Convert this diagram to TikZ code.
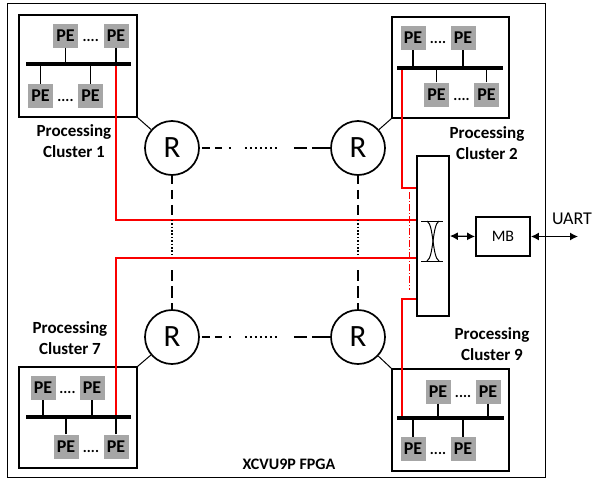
\documentclass[tikz,border=0pt]{standalone}
\usepackage{fontspec}
\setmainfont{Carlito}
\usetikzlibrary{arrows.meta,calc}
\definecolor{pegray}{RGB}{166,166,166}
\definecolor{linkred}{RGB}{250,0,0}
\begin{document}
\begin{tikzpicture}[x=1pt,y=-1pt,
  pe/.style={fill=pegray, minimum width=25pt, minimum height=24pt, inner sep=0pt,
             font=\fontsize{18}{18}\selectfont\bfseries},
  dots/.style={anchor=base, inner sep=0pt, font=\fontsize{15}{15}\selectfont\bfseries},
  bus/.style={line width=3.4pt},
  stem/.style={line width=1.1pt},
  cluster/.style={draw, line width=1.3pt, inner sep=0pt},
  clabel/.style={align=center, font=\fontsize{17}{21}\selectfont\bfseries},
  router/.style={circle, draw, line width=1.7pt, minimum size=54pt, inner sep=0pt,
                 font=\fontsize{31}{31}\selectfont},
  attach/.style={line width=1pt},
  redlink/.style={draw=linkred, line width=1.6pt},
  hlink/.style={line width=2pt, shorten <=2pt,
    dash pattern=on 8pt off 5pt on 7pt off 7pt on 2pt off 14pt
      on 2pt off 3pt on 2pt off 3pt on 2pt off 3pt on 2pt off 3pt
      on 2pt off 3pt on 2pt off 3pt on 2pt off 17pt
      on 13pt off 5pt on 20pt},
  vlink/.style={line width=2pt,
    dash pattern=on 8pt off 6pt on 9pt off 6pt on 10pt off 5pt
      on 1.6pt off 1.8pt on 1.6pt off 1.8pt on 1.6pt off 1.8pt on 1.6pt off 1.8pt
      on 1.6pt off 1.8pt on 1.6pt off 1.8pt on 1.6pt off 1.8pt on 1.6pt off 1.8pt
      on 1.6pt off 1.8pt on 1.6pt off 1.8pt on 1.6pt off 15pt
      on 11pt off 5pt on 12pt off 5pt on 10pt},
  box/.style={draw, line width=1.8pt, inner sep=0pt},
  biarrow/.style={line width=1.3pt, {Latex[length=8pt,width=8pt]}-{Latex[length=8pt,width=8pt]}},
]
\useasboundingbox (0,0) rectangle (596,479);

% FPGA outline and its name
\node[draw, line width=0.9pt, minimum width=538pt, minimum height=474pt, inner sep=0pt]
  (fpga) at (276,240) {};
\node[font=\fontsize{16}{16}\selectfont\bfseries] (fpganame) at (289,464) {XCVU9P FPGA};

% crossbar, MicroBlaze, UART
\node[box, minimum width=32pt, minimum height=160pt] (xb) at (433,236) {};
\node[box, minimum width=54pt, minimum height=39pt, font=\fontsize{16}{16}\selectfont] (mb) at (503,236.5) {MB};
\coordinate (uart) at (578,236.5);
\node[font=\fontsize{18}{18}\selectfont] (uartlbl) at (572,219) {UART};
\draw[line width=1pt] (421,221) -- (443,221) (421,261) -- (443,261);
\draw[line width=1pt] (427,221) .. controls (434,225) and (432,257) .. (439,261);
\draw[line width=1pt] (439,221) .. controls (432,225) and (434,257) .. (427,261);
\draw[biarrow] (xb.east) -- (mb.west);
\draw[biarrow] (mb.east) -- (uart);

% routers
\node[router] (r1) at (172,148) {R};
\node[router] (r2) at (358,148) {R};
\node[router] (r3) at (172,337) {R};
\node[router] (r4) at (358,337) {R};

% cluster boxes
\node[cluster, minimum width=118pt, minimum height=102pt] (c1) at (78,66) {};
\node[cluster, minimum width=117pt, minimum height=101pt] (c2) at (450.5,67.5) {};
\node[cluster, minimum width=118pt, minimum height=101pt] (c7) at (78,417.5) {};
\node[cluster, minimum width=117pt, minimum height=102pt] (c9) at (450.5,420) {};

\node[clabel] (l1) at (74,141.5) {Processing\\Cluster 1};
\node[clabel] (l2) at (487,143) {Processing\\Cluster 2};
\node[clabel] (l7) at (70,338.5) {Processing\\Cluster 7};
\node[clabel] (l9) at (492,344.5) {Processing\\Cluster 9};

% processing elements
\node[pe] (p1a) at (65.5,35.5) {PE};
\node[pe] (p1b) at (116,35.5) {PE};
\node[pe] (p1c) at (40.5,96) {PE};
\node[pe] (p1d) at (90.5,96) {PE};
\coordinate (b1w) at (26,64); \coordinate (b1e) at (131,64);

\node[pe] (p2a) at (413,38) {PE};
\node[pe] (p2b) at (463,38) {PE};
\node[pe] (p2c) at (436.5,94.5) {PE};
\node[pe] (p2d) at (486.5,94.5) {PE};
\coordinate (b2w) at (397,68); \coordinate (b2e) at (503,68);

\node[pe] (p7a) at (43,388) {PE};
\node[pe] (p7b) at (92,388) {PE};
\node[pe] (p7c) at (66,446.5) {PE};
\node[pe] (p7d) at (116,446.5) {PE};
\coordinate (b7w) at (26,417); \coordinate (b7e) at (131,417);

\node[pe] (p9a) at (438,391.5) {PE};
\node[pe] (p9b) at (488,391.5) {PE};
\node[pe] (p9c) at (413,449) {PE};
\node[pe] (p9d) at (463,449) {PE};
\coordinate (b9w) at (397,418); \coordinate (b9e) at (504,418);

\foreach \c in {1,2,7,9} {
  \node[dots] at ($(p\c a.base)!0.5!(p\c b.base)$) {....};
  \node[dots] at ($(p\c c.base)!0.5!(p\c d.base)$) {....};
}

% red configuration lines to the crossbar
\draw[redlink] (p1b |- b1w) |- ($(xb.west)+(0,-16)$);
\draw[redlink] (p7d |- b7w) |- ($(xb.west)+(0,22)$);
\draw[redlink] ($(b2w)+(5,0)$) |- ($(xb.west)+(0,-48)$);
\draw[redlink] ($(b9w)+(5,0)$) |- ($(xb.west)+(0,63)$);
\coordinate (dd1) at (409,192); \coordinate (dd2) at (409,290);
\draw[draw=linkred, line width=0.8pt, dash pattern=on 7pt off 2pt on 1pt off 2pt] (dd1) -- (dd2);

% buses and stems
\foreach \c in {1,2,7,9} {
  \draw[bus] (b\c w) -- (b\c e);
}
\draw[stem] (p1a.south) -- (p1a |- b1w);
\draw[stem] (p1b.south) -- (p1b |- b1w);
\draw[stem] (p1c.north) -- (p1c |- b1w);
\draw[stem] (p1d.north) -- (p1d |- b1w);
\draw[stem] (p2a.south) -- (p2a |- b2w);
\draw[stem] (p2b.south) -- (p2b |- b2w);
\draw[stem] (p2c.north) -- (p2c |- b2w);
\draw[stem] (p2d.north) -- (p2d |- b2w);
\draw[stem] (p7a.south) -- (p7a |- b7w);
\draw[stem] (p7b.south) -- (p7b |- b7w);
\draw[stem] (p7c.north) -- (p7c |- b7w);
\draw[stem] (p7d.north) -- (p7d |- b7w);
\draw[stem] (p9a.south) -- (p9a |- b9w);
\draw[stem] (p9b.south) -- (p9b |- b9w);
\draw[stem] (p9c.north) -- (p9c |- b9w);
\draw[stem] (p9d.north) -- (p9d |- b9w);

% clusters attached to routers
\draw[attach] (c1.south east) -- (r1);
\draw[attach] (c2.south west) -- (r2);
\draw[attach] (c7.north east) -- (r3);
\draw[attach] (c9.north west) -- (r4);

% router mesh links
\draw[hlink] (r1.east) -- (r2.west);
\draw[hlink] (r3.east) -- (r4.west);
\draw[vlink] (r1.south) -- (r3.north);
\draw[vlink] (r2.south) -- (r4.north);
\end{tikzpicture}
\end{document}
